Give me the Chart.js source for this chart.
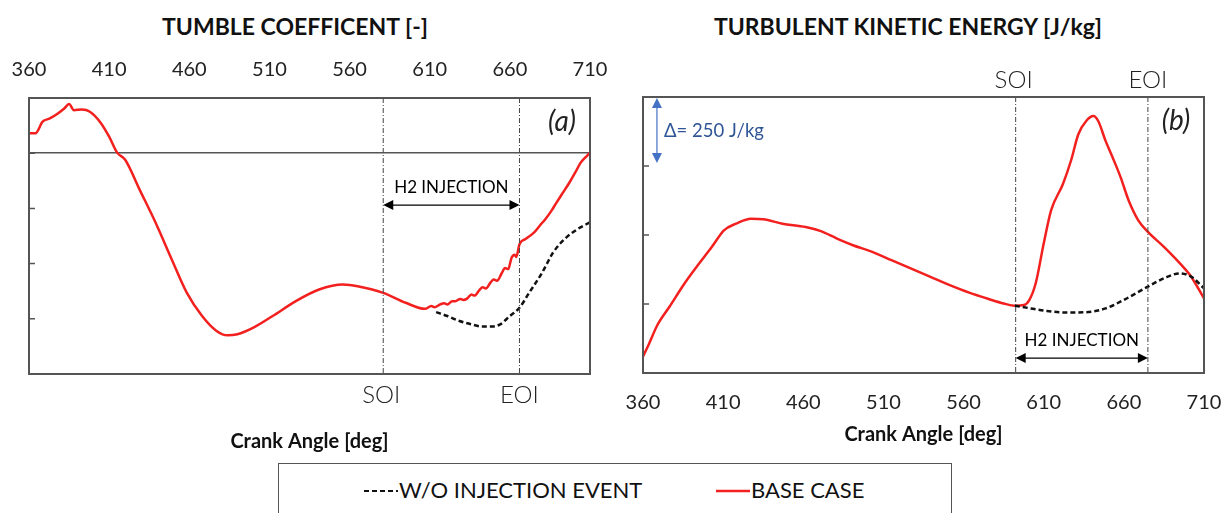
<!DOCTYPE html>
<html>
<head>
<meta charset="utf-8">
<script src="https://cdn.jsdelivr.net/npm/chart.js@4/dist/chart.umd.min.js"></script>
<style>
  body { margin: 0; width: 1229px; height: 513px; overflow: hidden; background: #fff; font-family: Lato, sans-serif; color: #111; }
  .title { position: absolute; top: 12px; font-weight: bold; font-size: 23px; white-space: nowrap; transform: translateX(-50%); line-height: 28px; }
  canvas { position: absolute; top: 0; }
  #legend { position: absolute; left: 278px; top: 463px; width: 672px; height: 70px; border: 1.5px solid #555; }
  #legend .item { position: absolute; top: 12px; font-size: 22px; line-height: 28px; white-space: nowrap; }
  #legend svg { vertical-align: middle; margin-right: 1px; position: relative; top: -1px; }
</style>
</head>
<body>
<div class="title" style="left:295px">TUMBLE COEFFICENT [-]</div>
<div class="title" style="left:908px">TURBULENT KINETIC ENERGY [J/kg]</div>
<canvas id="tumble" width="614" height="460" style="left:0"></canvas>
<canvas id="tke" width="615" height="460" style="left:614px"></canvas>
<div id="legend">
  <span class="item" style="left:85px"><svg width="34" height="6"><line x1="0" y1="3" x2="34" y2="3" stroke="#111" stroke-width="2" stroke-dasharray="5 3"/></svg>W/O INJECTION EVENT</span>
  <span class="item" style="left:437px"><svg width="34" height="6"><line x1="0" y1="3" x2="34" y2="3" stroke="#f2201e" stroke-width="2.5"/></svg>BASE CASE</span>
</div>
<script>
// crank angle ticks shared by both panels
var crankTicks = [360, 410, 460, 510, 560, 610, 660, 710];

// (a) tumble coefficient
var tumbleBaseAngle = [360, 364, 368.5, 373, 378, 382, 385, 388, 393, 398, 405, 410, 415, 420, 429, 439, 449, 458.5, 468, 477,
  484, 490, 500, 512, 526.5, 541, 556, 565, 581, 595, 607, 611, 613, 616.5, 619, 621, 624, 626, 629, 631,
  633.5, 636, 638, 641, 643, 645, 648, 650, 652, 655, 657, 659, 661, 663, 664, 666, 670, 675, 679, 682,
  686, 689, 693, 697, 701, 704, 707, 710];
var tumbleBaseValue = [4.36, 4.36, 4.57, 4.63, 4.72, 4.81, 4.89, 4.78, 4.79, 4.75, 4.54, 4.30, 4.01, 3.88, 3.34, 2.74, 2.08, 1.47, 1.05, 0.78,
  0.70, 0.72, 0.84, 1.05, 1.32, 1.53, 1.62, 1.59, 1.47, 1.29, 1.18, 1.23, 1.21, 1.26, 1.28, 1.26, 1.32, 1.32, 1.36, 1.34,
  1.37, 1.44, 1.42, 1.52, 1.57, 1.55, 1.66, 1.71, 1.69, 1.83, 1.92, 1.90, 2.10, 2.16, 2.12, 2.35, 2.45, 2.56, 2.70, 2.80,
  2.96, 3.10, 3.28, 3.46, 3.66, 3.82, 3.92, 4.01];
var tumbleNoInjAngle = [614, 621, 628.6, 636, 643, 649, 654, 660, 666, 672, 680, 687, 694, 702, 710];
var tumbleNoInjValue = [1.12, 1.05, 0.96, 0.90, 0.86, 0.86, 0.90, 1.05, 1.20, 1.47, 1.83, 2.20, 2.44, 2.62, 2.75];
var tumbleTicks = [1, 2, 3, 4];
var tumbleSoi = 581;
var tumbleEoi = 666;

// (b) turbulent kinetic energy [J/kg]
var tkeBaseAngle = [360, 363, 369, 376.5, 386, 393.5, 403, 410.5, 418, 427.5, 435, 447, 461.5, 471, 481, 491, 503, 515, 527, 539,
  551, 563.5, 575.7, 585, 592, 597.6, 601, 605, 610, 614.6, 622, 627, 631.6, 636.5, 641, 644, 648.6, 653, 658, 663,
  669, 675, 685, 695, 702, 710];
var tkeBaseValue = [60, 96, 174, 240, 325, 385, 457, 517, 541, 559, 557, 541, 529, 514, 487, 463, 439, 409, 379, 349,
  319, 291, 268, 252, 244, 246, 264, 325, 469, 589, 685, 769, 865, 913, 931, 913, 841, 781, 709, 625,
  553, 511, 457, 397, 349, 270];
var tkeNoInjAngle = [592, 602, 612, 624, 636, 648.6, 660.7, 675, 685, 695, 702, 710];
var tkeNoInjValue = [244, 234, 225, 219, 220, 234, 267, 313, 343, 361, 349, 307];
var tkeTicks = [250, 500, 750];
var tkeSoi = 592.5;
var tkeEoi = 675;
var tkeDelta = 250;

var RED = '#f2201e';
var FRAME = '#555';

function makePoints(xs, ys) {
  var pts = [];
  for (var i = 0; i < xs.length; i++) {
    pts.push({ x: xs[i], y: ys[i] });
  }
  return pts;
}

function dashDot(ctx, x, top, bottom) {
  ctx.save();
  ctx.strokeStyle = '#444';
  ctx.lineWidth = 1;
  ctx.setLineDash([5, 2, 1, 2]);
  ctx.beginPath();
  ctx.moveTo(x, top);
  ctx.lineTo(x, bottom);
  ctx.stroke();
  ctx.restore();
}

function arrowHead(ctx, x, y, dir, horizontal) {
  ctx.beginPath();
  if (horizontal) {
    ctx.moveTo(x, y);
    ctx.lineTo(x - dir * 10, y - 5);
    ctx.lineTo(x - dir * 10, y + 5);
  } else {
    ctx.moveTo(x, y);
    ctx.lineTo(x - 5, y - dir * 10);
    ctx.lineTo(x + 5, y - dir * 10);
  }
  ctx.closePath();
  ctx.fill();
}

// keep the plot box edge to edge with the first and last tick
function noLabelPadding(s) {
  s.paddingLeft = 0;
  s.paddingRight = 0;
}

// frame, inner ticks, SOI/EOI markers and the injection window
var markers = {
  id: 'markers',
  afterDatasetsDraw: function (chart, args, opts) {
    var ctx = chart.ctx;
    var area = chart.chartArea;
    var xs = chart.scales.x;
    var ys = chart.scales.y;
    var soiX = xs.getPixelForValue(opts.soi);
    var eoiX = xs.getPixelForValue(opts.eoi);

    dashDot(ctx, soiX, area.top, area.bottom);
    dashDot(ctx, eoiX, area.top, area.bottom);

    ctx.save();
    ctx.strokeStyle = FRAME;
    ctx.lineWidth = 1.5;
    ctx.beginPath();
    opts.ticks.forEach(function (v) {
      var y = ys.getPixelForValue(v);
      ctx.moveTo(area.left, y);
      ctx.lineTo(area.left + 6, y);
    });
    ctx.stroke();
    ctx.lineWidth = 2;
    ctx.strokeRect(area.left, area.top, area.right - area.left, area.bottom - area.top);

    // SOI / EOI captions
    ctx.fillStyle = '#222';
    ctx.font = '300 24px Lato';
    ctx.textAlign = 'center';
    ctx.textBaseline = 'middle';
    var capY = opts.captionsBelow ? area.bottom + 21 : area.top - 17;
    ctx.fillText('SOI', soiX - 2, capY);
    ctx.fillText('EOI', eoiX, capY);

    // H2 injection window
    var arrowY = ys.getPixelForValue(opts.arrowAt);
    ctx.fillStyle = '#000';
    ctx.strokeStyle = '#000';
    ctx.lineWidth = 1.2;
    ctx.beginPath();
    ctx.moveTo(soiX + 4, arrowY);
    ctx.lineTo(eoiX - 4, arrowY);
    ctx.stroke();
    arrowHead(ctx, soiX, arrowY, -1, true);
    arrowHead(ctx, eoiX, arrowY, 1, true);
    ctx.font = '17px Lato';
    ctx.fillText('H2 INJECTION', (soiX + eoiX) / 2, arrowY - 18);

    // panel letter
    ctx.font = 'italic 28px Lato';
    ctx.fillStyle = '#222';
    ctx.fillText(opts.letter, area.right - 28, area.top + 24);

    // scale bar
    if (opts.delta) {
      var bx = xs.getPixelForValue(opts.delta.at);
      var y0 = ys.getPixelForValue(ys.max);
      var y1 = ys.getPixelForValue(ys.max - opts.delta.size);
      ctx.strokeStyle = '#4472c4';
      ctx.fillStyle = '#4472c4';
      ctx.lineWidth = 1.2;
      ctx.beginPath();
      ctx.moveTo(bx, y0 + 6);
      ctx.lineTo(bx, y1 - 6);
      ctx.stroke();
      arrowHead(ctx, bx, y0 + 1, -1, false);
      arrowHead(ctx, bx, y1 - 3, 1, false);
      ctx.fillStyle = '#2f5597';
      ctx.font = '18.5px Lato';
      ctx.textAlign = 'left';
      ctx.fillText('\u0394= ' + opts.delta.size + ' J/kg', bx + 7, (y0 + y1) / 2);
    }
    ctx.restore();
  }
};

function lineSets(baseX, baseY, noX, noY) {
  return [
    {
      label: 'W/O INJECTION EVENT',
      data: makePoints(noX, noY),
      xAxisID: 'x', yAxisID: 'y',
      borderColor: '#111', borderWidth: 2.5, borderDash: [5, 3],
      pointRadius: 0, cubicInterpolationMode: 'monotone'
    },
    {
      label: 'BASE CASE',
      data: makePoints(baseX, baseY),
      xAxisID: 'x', yAxisID: 'y',
      borderColor: RED, borderWidth: 2.5,
      pointRadius: 0, cubicInterpolationMode: 'monotone'
    }
  ];
}

var tickFont = { family: 'Lato', size: 20 };
var axisTitleFont = { family: 'Lato', size: 20, weight: 'bold' };

var tumbleChart = new Chart(document.getElementById('tumble'), {
  type: 'line',
  data: { datasets: lineSets(tumbleBaseAngle, tumbleBaseValue, tumbleNoInjAngle, tumbleNoInjValue) },
  options: {
    responsive: false,
    animation: false,
    layout: { padding: { left: 0, right: 24, top: 0, bottom: 0 } },
    plugins: {
      legend: { display: false },
      tooltip: { enabled: false },
      markers: { soi: tumbleSoi, eoi: tumbleEoi, ticks: tumbleTicks, captionsBelow: true, arrowAt: 3.06, letter: '(a)' }
    },
    scales: {
      x: {
        type: 'linear', position: 'top', min: 360, max: 710,
        afterBuildTicks: function (s) { s.ticks = crankTicks.map(function (v) { return { value: v }; }); },
        ticks: { font: tickFont, color: '#222', padding: 16, maxRotation: 0 },
        grid: { display: false, drawTicks: false },
        border: { display: false },
        afterFit: function (s) { s.height = 98; noLabelPadding(s); }
      },
      xb: {
        type: 'linear', position: 'bottom', min: 360, max: 710,
        ticks: { display: false },
        grid: { display: false, drawTicks: false },
        border: { display: false },
        title: { display: true, text: 'Crank Angle [deg]', font: axisTitleFont, color: '#111', padding: { top: 0, bottom: 6 } },
        afterFit: function (s) { s.height = 86; noLabelPadding(s); }
      },
      y: {
        min: 0, max: 5,
        ticks: { display: false, stepSize: 1 },
        grid: {
          drawTicks: false,
          lineWidth: 1.5,
          color: function (c) { return c.tick && c.tick.value === 4 ? FRAME : 'rgba(0,0,0,0)'; }
        },
        border: { display: false },
        afterFit: function (s) { s.width = 29; }
      }
    }
  },
  plugins: [markers]
});

var tkeChart = new Chart(document.getElementById('tke'), {
  type: 'line',
  data: { datasets: lineSets(tkeBaseAngle, tkeBaseValue, tkeNoInjAngle, tkeNoInjValue) },
  options: {
    responsive: false,
    animation: false,
    layout: { padding: { left: 0, right: 25, top: 97, bottom: 0 } },
    plugins: {
      legend: { display: false },
      tooltip: { enabled: false },
      markers: { soi: tkeSoi, eoi: tkeEoi, ticks: tkeTicks, captionsBelow: false, arrowAt: 54, letter: '(b)',
        delta: { at: 368.7, size: tkeDelta } }
    },
    scales: {
      x: {
        type: 'linear', position: 'bottom', min: 360, max: 710,
        afterBuildTicks: function (s) { s.ticks = crankTicks.map(function (v) { return { value: v }; }); },
        ticks: { font: tickFont, color: '#222', padding: 18, maxRotation: 0 },
        grid: { display: false, drawTicks: false },
        border: { display: false },
        title: { display: true, text: 'Crank Angle [deg]', font: axisTitleFont, color: '#111', padding: { top: 0, bottom: 13 } },
        afterFit: function (s) { s.height = 87; noLabelPadding(s); }
      },
      y: {
        min: 0, max: 1000,
        ticks: { display: false, stepSize: 250 },
        grid: { display: false, drawTicks: false },
        border: { display: false },
        afterFit: function (s) { s.width = 29; }
      }
    }
  },
  plugins: [markers]
});
</script>
</body>
</html>
